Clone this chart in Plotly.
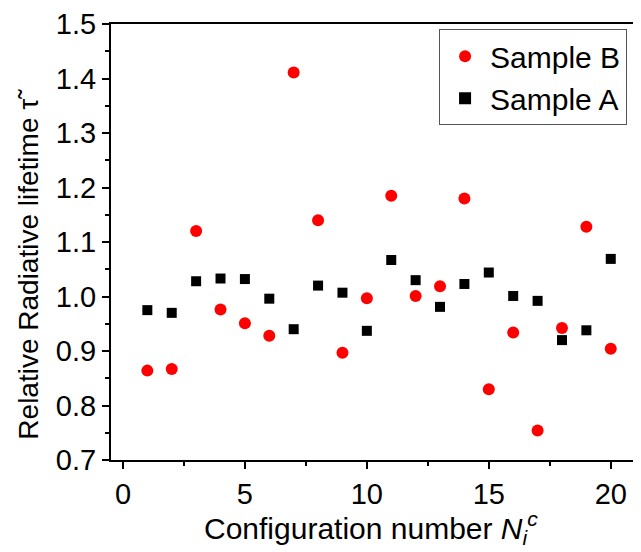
import plotly.graph_objects as go

config = list(range(1, 21))
sample_b = [0.864, 0.867, 1.120, 0.976, 0.951, 0.928, 1.411, 1.140, 0.897, 0.997,
            1.185, 1.001, 1.019, 1.180, 0.830, 0.934, 0.754, 0.942, 1.128, 0.904]
sample_a = [0.975, 0.970, 1.028, 1.033, 1.032, 0.996, 0.940, 1.020, 1.007, 0.937,
            1.067, 1.030, 0.981, 1.023, 1.044, 1.001, 0.992, 0.920, 0.938, 1.069]
x_ticks = [0, 5, 10, 15, 20]
y_ticks = [0.7, 0.8, 0.9, 1.0, 1.1, 1.2, 1.3, 1.4, 1.5]
y_ticktext = ["0.7", "0.8", "0.9", "1.0", "1.1", "1.2", "1.3", "1.4", "1.5"]

FONT = "Liberation Sans, Arial, sans-serif"

fig = go.Figure()
fig.add_trace(go.Scatter(x=config, y=sample_b, mode="markers", name="Sample B",
                         marker=dict(symbol="circle", size=12, color="#ff0000")))
fig.add_trace(go.Scatter(x=config, y=sample_a, mode="markers", name="Sample A",
                         marker=dict(symbol="square", size=10, color="#000000")))

tick_common = dict(ticks="outside", ticklen=7, tickwidth=1.5, tickcolor="black",
                   showline=True, linecolor="black", linewidth=2,
                   showgrid=False, zeroline=False, automargin=False)

# page body has an 8px margin, so the figure is drawn 8px in from the top-left
fig.update_layout(
    width=633, height=544,
    margin=dict(l=103, r=0, t=16, b=92),
    paper_bgcolor="white", plot_bgcolor="white",
    font=dict(family=FONT, size=29, color="black"),
    showlegend=True,
    legend=dict(x=0.619, y=0.988, xanchor="left", yanchor="top",
                bordercolor="#555555", borderwidth=1, bgcolor="white",
                font=dict(size=30), itemsizing="constant", itemwidth=40,
                tracegroupgap=0),
    xaxis=dict(range=[-0.49, 21.24], tickvals=x_ticks, mirror=True,
               minor=dict(tickvals=[2.5, 7.5, 12.5, 17.5], ticks="outside", ticklen=4,
                          tickwidth=1.5, tickcolor="black"),
               tickfont=dict(size=29), **tick_common),
    yaxis=dict(range=[0.7, 1.5], tickvals=y_ticks, ticktext=y_ticktext,
               minor=dict(tickvals=[0.75, 0.85, 0.95, 1.05, 1.15, 1.25, 1.35, 1.45],
                          ticks="outside", ticklen=4, tickwidth=1.5, tickcolor="black"),
               tickfont=dict(size=29), **tick_common),
    annotations=[
        dict(text="Configuration number <i>N</i><sub><i>i</i></sub><sup><i>c</i></sup>",
             xref="paper", yref="paper", x=0.49, y=-0.156, xanchor="center", yanchor="middle",
             showarrow=False, font=dict(size=30)),
        dict(text="Relative Radiative lifetime τ̃",
             xref="paper", yref="paper", x=-0.155, y=0.45, xanchor="center", yanchor="middle",
             textangle=-90, showarrow=False, font=dict(size=28)),
    ],
)

fig.write_html("out.html")
